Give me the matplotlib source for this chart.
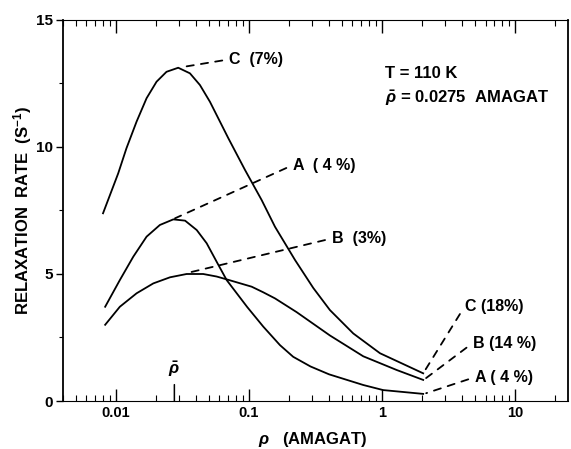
import matplotlib
matplotlib.use('Agg')
import matplotlib.pyplot as plt
from matplotlib.ticker import LogLocator, NullFormatter

plt.rcParams['font.family'] = ['Liberation Sans', 'DejaVu Sans']
plt.rcParams['font.weight'] = 'bold'
plt.rcParams['axes.labelweight'] = 'bold'
plt.rcParams['mathtext.fontset'] = 'custom'
plt.rcParams['mathtext.rm'] = 'Liberation Sans:bold'
plt.rcParams['mathtext.it'] = 'Liberation Sans:italic:bold'
plt.rcParams['mathtext.bf'] = 'Liberation Sans:bold'

# values (density in amagat, rate in 1/s)
a_rho = [0.0083, 0.0107, 0.0135, 0.0170, 0.0214, 0.0270, 0.0331, 0.0405, 0.0481, 0.0572,
         0.068, 0.097, 0.128, 0.171, 0.215, 0.29, 0.40, 0.723, 1.02, 2.04]
a_rate = [3.71, 4.76, 5.68, 6.47, 6.93, 7.15, 7.10, 6.73, 6.21, 5.48,
          4.76, 3.70, 2.93, 2.20, 1.74, 1.36, 1.05, 0.63, 0.43, 0.28]

b_rho = [0.0083, 0.0107, 0.0143, 0.0191, 0.0255, 0.0340, 0.0453, 0.0572, 0.0710, 0.1048,
         0.128, 0.1569, 0.228, 0.406, 0.723, 1.29, 2.04]
b_rate = [3.00, 3.71, 4.24, 4.63, 4.87, 5.00, 5.00, 4.90, 4.76, 4.50,
          4.28, 4.04, 3.50, 2.58, 1.76, 1.22, 0.83]

c_rho = [0.0080, 0.0104, 0.0120, 0.0143, 0.0170, 0.0202, 0.0240, 0.0294, 0.0360, 0.0428,
         0.0509, 0.0588, 0.0699, 0.0933, 0.1246, 0.1569, 0.222, 0.3044, 0.406, 0.608,
         0.966, 2.04]
c_rate = [7.39, 8.96, 9.95, 11.00, 11.92, 12.57, 12.96, 13.12, 12.90, 12.44,
          11.78, 11.13, 10.35, 9.10, 7.91, 6.86, 5.55, 4.45, 3.58, 2.66,
          1.88, 1.09]

x_ticks = [0.01, 0.1, 1, 10]
x_ticklabels = ['0.01', '0.1', '1', '10']
y_ticks = [0, 5, 10, 15]
y_ticklabels = ['0', '5', '10', '15']

# leader labels: text, point on curve, label position
notes = [
    ('C  (7%)', (0.0294, 13.12), (0.071, 13.45)),
    ('A  ( 4 %)', (0.0272, 7.17), (0.214, 9.29)),
    ('B  (3%)', (0.035, 5.05), (0.42, 6.40)),
    ('C (18%)', (2.04, 1.09), (4.2, 3.74)),
    ('B (14 %)', (2.08, 0.85), (4.8, 2.28)),
    ('A ( 4 %)', (2.10, 0.29), (5.0, 0.94)),
]

rho_bar = 0.0275

fig = plt.figure(figsize=(5.71, 4.49), dpi=100)
ax = fig.add_axes([0.1103, 0.1069, 0.8844, 0.8486])

for xs, ys in [(a_rho, a_rate), (b_rho, b_rate), (c_rho, c_rate)]:
    ax.plot(xs, ys, color='black', lw=1.3)

for txt, xy, xyt in notes:
    ax.annotate(txt, xy=xy, xytext=xyt, fontsize=11.5, ha='left', va='center',
                arrowprops=dict(arrowstyle='-', linestyle=(0, (4, 4)), lw=1.3,
                                color='black', relpos=(0, 0.5), shrinkA=3, shrinkB=1))

ax.annotate(r'$\bar{\rho}$', xy=(rho_bar, 0), xytext=(rho_bar, 1.25), fontsize=12,
            ha='center', va='center',
            arrowprops=dict(arrowstyle='-', lw=1.1, color='black', shrinkA=2, shrinkB=0))

ax.text(1.05, 12.9, 'T = 110 K', fontsize=12, ha='left', va='center')
ax.text(1.05, 11.93, r'$\bar{\rho}$ = 0.0275  AMAGAT', fontsize=12, ha='left', va='center')

ax.set_xscale('log')
ax.set_xlim(0.004, 25)
ax.set_ylim(0, 15)
ax.set_xticks(x_ticks)
ax.set_xticklabels(x_ticklabels, fontsize=10.5)
ax.xaxis.set_minor_locator(LogLocator(base=10, subs=range(2, 10)))
ax.xaxis.set_minor_formatter(NullFormatter())
ax.set_yticks(y_ticks)
ax.set_yticklabels(y_ticklabels, fontsize=11)
ax.set_yticks([2.5, 7.5, 12.5], minor=True)

ax.tick_params(axis='x', which='major', direction='in', top=True, bottom=True, length=9, width=1)
ax.tick_params(axis='x', which='minor', direction='in', top=True, bottom=True, length=4, width=0.8)
ax.tick_params(axis='y', which='major', direction='out', length=5, width=1, pad=2)
ax.tick_params(axis='y', which='minor', direction='out', length=3, width=0.8)

for side in ['top', 'bottom']:
    ax.spines[side].set_linewidth(0.8)
for side in ['left', 'right']:
    ax.spines[side].set_linewidth(1.3)

ax.set_xlabel(r'$\rho$   (AMAGAT)', fontsize=12, fontweight='bold')
ax.xaxis.set_label_coords(0.495, -0.076)
ax.set_ylabel(r'RELAXATION  RATE  (S$^{-1}$)', fontsize=12, fontweight='bold')
ax.yaxis.set_label_coords(-0.058, 0.5)

fig.savefig('out.png', dpi=100)
